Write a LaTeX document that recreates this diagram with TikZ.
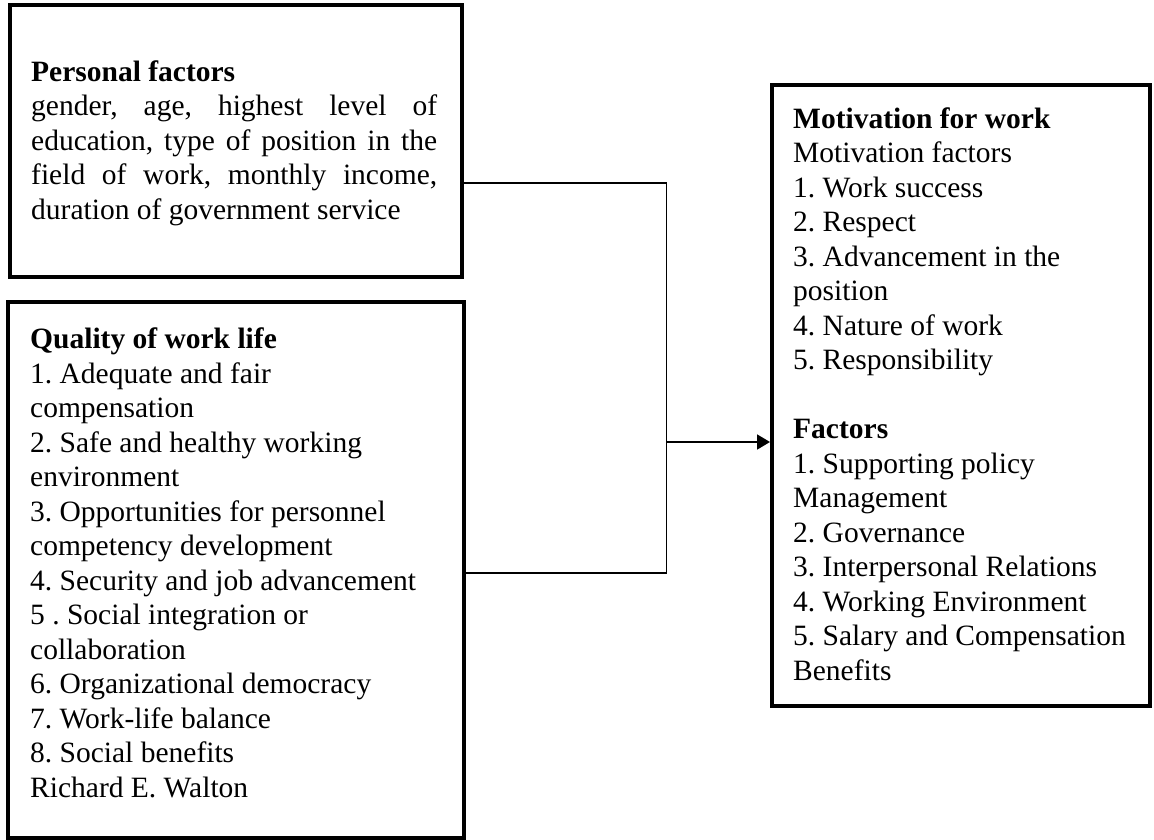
\documentclass[tikz,border=0pt]{standalone}
\usepackage{fontspec}
\setmainfont{Liberation Serif}
\usetikzlibrary{arrows.meta}
\begin{document}
\frenchspacing
\begin{tikzpicture}[x=1pt,y=-1pt,
  boxframe/.style={draw=black, line width=4pt, inner sep=0pt, outer sep=0pt, anchor=north west},
  boxtext/.style={anchor=north west, inner sep=0pt, align=left, font=\fontsize{29.5}{34.5}\selectfont\frenchspacing},
  link/.style={draw=black, line width=1.8pt},
]
\useasboundingbox (0,0) rectangle (1154,840);
% boxes
\node[boxframe, minimum width=451.5pt, minimum height=271.5pt] (P) at (10,5.5) {};
\node[boxframe, minimum width=455.5pt, minimum height=536pt] (Q) at (8,302) {};
\node[boxframe, minimum width=378pt, minimum height=621pt] (M) at (772,85) {};
% texts
\node[boxtext] (Pt) at (31,56.85) {\strut\textbf{Personal factors}\\
\makebox[406pt][s]{gender, age, highest level of}\\
\makebox[406pt][s]{education, type of position in the}\\
\makebox[406pt][s]{field of work, monthly income,}\\
duration of government service};
\node[boxtext] (Qt) at (30,324.35) {\strut\textbf{Quality of work life}\\
1. Adequate and fair\\
compensation\\
2. Safe and healthy working\\
environment\\
3. Opportunities for personnel\\
competency development\\
4. Security and job advancement\\
5 . Social integration or\\
collaboration\\
6. Organizational democracy\\
7. Work-life balance\\
8. Social benefits\\
Richard E. Walton};
\node[boxtext] (Mt) at (793,103.85) {\strut\textbf{Motivation for work}\\
Motivation factors\\
1. Work success\\
2. Respect\\
3. Advancement in the\\
position\\
4. Nature of work\\
5. Responsibility\\
\strut\\
\textbf{Factors}\\
1. Supporting policy\\
Management\\
2. Governance\\
3. Interpersonal Relations\\
4. Working Environment\\
5. Salary and Compensation\\
Benefits};
% connectors
\coordinate (ytop) at (0,183);
\coordinate (jbot) at (666.5,573);
\coordinate (jmid) at (666.5,442);
\draw[link] (P.east |- ytop) -| (jbot) -- (Q.east |- jbot);
\draw[link, -{Triangle[length=13pt,width=15pt]}, shorten >=2pt] (jmid) -- (M.west |- jmid);
\end{tikzpicture}
\end{document}
